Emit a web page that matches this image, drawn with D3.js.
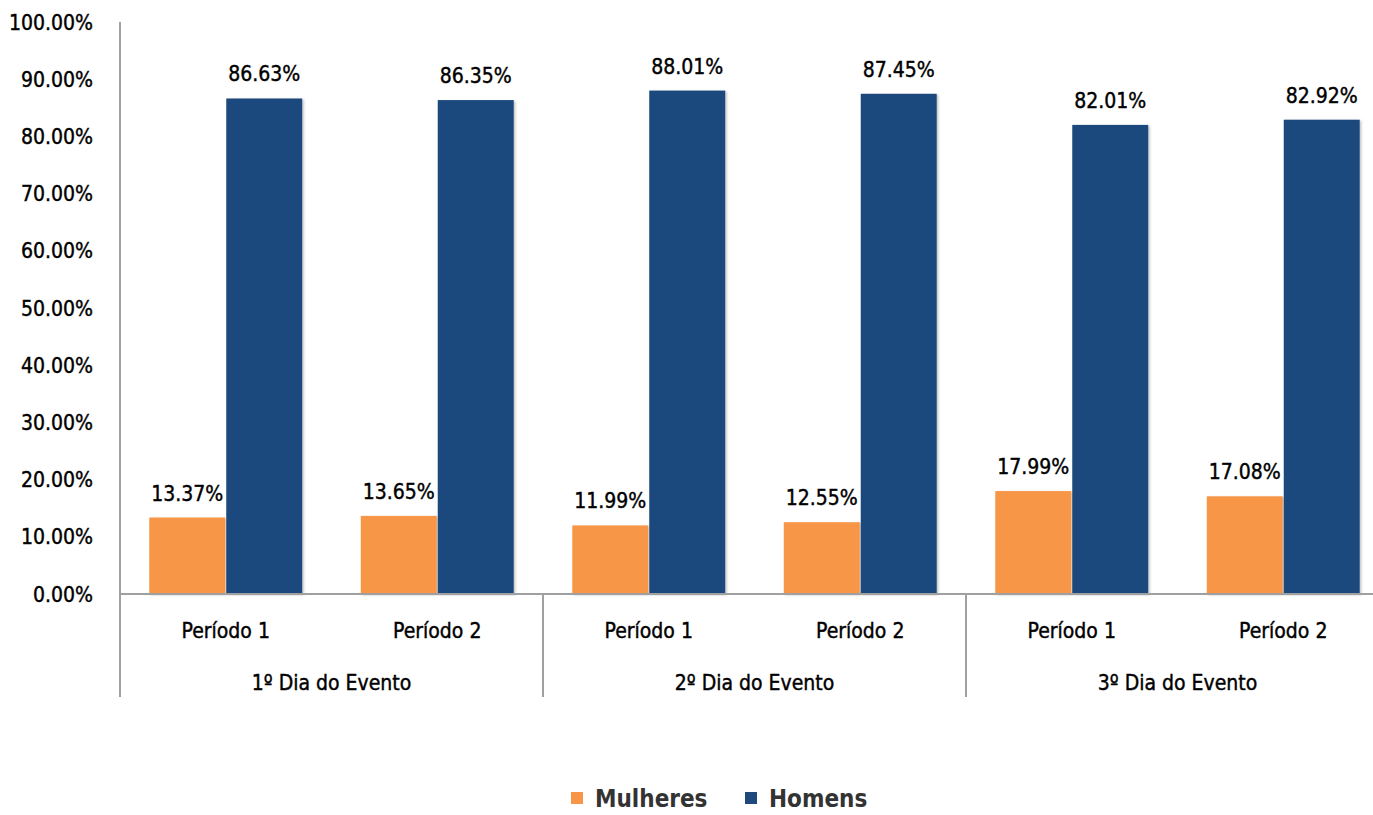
<!DOCTYPE html>
<html><head><meta charset="utf-8">
<script src="https://cdn.jsdelivr.net/npm/d3@7"></script>
<style>
body{margin:0;background:#fff;}
text{font-family:"DejaVu Sans Condensed","DejaVu Sans",sans-serif;font-stretch:condensed;fill:#000;}
.lab{font-size:21px;stroke:#000;stroke-width:0.4px;}
</style></head>
<body><svg id="c" width="1373" height="815"></svg>
<script>
const days = ["1º Dia do Evento","2º Dia do Evento","3º Dia do Evento"];
const periods = ["Período 1","Período 2"];
const seriesNames = ["Mulheres","Homens"];
const mulheres = [13.37,13.65,11.99,12.55,17.99,17.08];
const homens = [86.63,86.35,88.01,87.45,82.01,82.92];
const yTicks = [0,10,20,30,40,50,60,70,80,90,100];
const colors = ["#F79646","#1F497D"];

(function(){
const cats = [];
days.forEach((d,i)=>periods.forEach((p,j)=>cats.push({day:d,period:p,idx:i*2+j})));
const rows = cats.map((c,i)=>({...c, vals:[mulheres[i],homens[i]]}));

const svg = d3.select("#c");
const pl=120, pt=22, pb=594, catW=211.5;
const x = d3.scaleBand().domain(d3.range(6)).range([pl,pl+6*catW]).paddingInner(0.277).paddingOuter(0.1385);
const xs = d3.scaleBand().domain([0,1]).range([0,x.bandwidth()]).paddingInner(0.013);
const y = d3.scaleLinear().domain([0,100]).range([pb,pt]);

const defs = svg.append("defs");
const f = defs.append("filter").attr("id","sh").attr("x","-10%").attr("y","-10%").attr("width","130%").attr("height","130%");
f.append("feDropShadow").attr("dx",1.5).attr("dy",1).attr("stdDeviation",1.2).attr("flood-color","#000").attr("flood-opacity",0.25);

svg.append("g").selectAll("text").data(yTicks).join("text").attr("class","lab")
  .attr("x",93).attr("y",d=>y(d)).attr("dy","0.36em").attr("text-anchor","end")
  .text(d=>d.toFixed(2)+"%");

const g = svg.append("g").selectAll("g").data(rows).join("g").attr("transform",d=>`translate(${x(d.idx)},0)`);
g.selectAll("rect").data(d=>d.vals.map((v,k)=>({v,k}))).join("rect")
  .attr("x",d=>xs(d.k)).attr("width",xs.bandwidth())
  .attr("y",d=>y(d.v)).attr("height",d=>pb-y(d.v))
  .attr("fill",d=>colors[d.k]).attr("filter","url(#sh)");
g.selectAll("text").data(d=>d.vals.map((v,k)=>({v,k}))).join("text").attr("class","lab")
  .attr("x",d=>xs(d.k)+xs.bandwidth()/2).attr("y",d=>y(d.v)-17)
  .attr("text-anchor","middle")
  .text(d=>d.v.toFixed(2)+"%");

const axisCol="#a0a0a0";
svg.append("line").attr("x1",pl).attr("x2",pl).attr("y1",pt).attr("y2",697).attr("stroke",axisCol).attr("stroke-width",2);
svg.append("line").attr("x1",pl).attr("x2",1373).attr("y1",pb).attr("y2",pb).attr("stroke",axisCol).attr("stroke-width",2);
[1,2].forEach(i=>{
  const xx = pl+i*2*catW;
  svg.append("line").attr("x1",xx).attr("x2",xx).attr("y1",pb).attr("y2",697).attr("stroke",axisCol).attr("stroke-width",2);
});

svg.append("g").selectAll("text").data(rows).join("text").attr("class","lab")
  .attr("x",d=>pl+(d.idx+0.5)*catW).attr("y",638).attr("text-anchor","middle")
  .text(d=>d.period);
svg.append("g").selectAll("text").data(days).join("text").attr("class","lab")
  .attr("x",(d,i)=>pl+(i*2+1)*catW).attr("y",690).attr("text-anchor","middle")
  .text(d=>d);

const lg = svg.append("g");
const lx=[571,745];
seriesNames.forEach((s,i)=>{
  lg.append("rect").attr("x",lx[i]).attr("y",792).attr("width",12).attr("height",12).attr("fill",colors[i]);
  lg.append("text").attr("x",lx[i]+24).attr("y",807).style("font-size","24px").style("font-weight","bold").style("fill","#333").text(s);
});
})();
</script></body></html>
